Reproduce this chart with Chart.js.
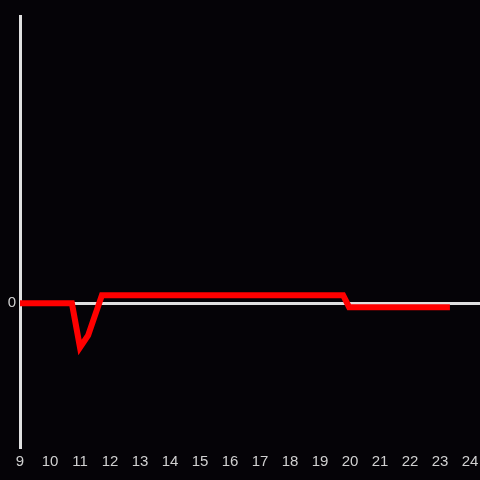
<!DOCTYPE html>
<html lang="en">
<head>
  <meta charset="UTF-8">
  <title>Line chart</title>
  <script src="https://cdn.jsdelivr.net/npm/chart.js"></script>
  <style>
    body {
      margin: 0;
      padding: 0;
      background-color: #050307;
    }
    #myChart {
      display: block;
    }
  </style>
</head>
<body>
  <canvas id="myChart" width="480" height="480"></canvas>

  <script>
    // hours on the x axis, values on the y axis
    const times = [9, 10.73, 11.0, 11.27, 11.73, 19.77, 19.97, 23.33];
    const values = [0, 0, -0.92, -0.67, 0.17, 0.17, -0.08, -0.08];
    const xTicks = [9, 10, 11, 12, 13, 14, 15, 16, 17, 18, 19, 20, 21, 22, 23, 24];
    const yTicks = [0];

    const points = times.map((t, i) => ({ x: t, y: values[i] }));

    const ctx = document.getElementById('myChart').getContext('2d');
    const myChart = new Chart(ctx, {
      type: 'line',
      data: {
        datasets: [{
          data: points,
          borderColor: '#ff0000',
          borderWidth: 6,
          pointRadius: 0,
          tension: 0,
          fill: false
        }]
      },
      options: {
        responsive: false,
        animation: false,
        layout: {
          padding: { top: 16, bottom: 3, left: 0, right: 0 }
        },
        scales: {
          x: {
            type: 'linear',
            min: 9,
            max: 24.333,
            afterBuildTicks: function(scale) {
              scale.ticks = xTicks.map(v => ({ value: v }));
            },
            afterFit: function(scale) {
              scale.paddingLeft = 0;
              scale.paddingRight = 0;
            },
            ticks: {
              color: '#d0d0d0',
              padding: 6,
              maxRotation: 0,
              autoSkip: false,
              font: { family: 'Liberation Sans, Arial, sans-serif', size: 15 }
            },
            grid: { display: false, drawTicks: false },
            border: { display: false }
          },
          y: {
            min: -3,
            max: 6,
            afterBuildTicks: function(scale) {
              scale.ticks = yTicks.map(v => ({ value: v }));
            },
            afterFit: function(scale) {
              scale.width = 20;
            },
            ticks: {
              color: '#d0d0d0',
              padding: 4,
              font: { family: 'Liberation Sans, Arial, sans-serif', size: 15 }
            },
            grid: {
              color: '#e0e0e0',
              lineWidth: 3,
              drawTicks: false
            },
            border: {
              display: true,
              color: '#e0e0e0',
              width: 3
            }
          }
        },
        plugins: {
          legend: { display: false },
          tooltip: { enabled: false }
        }
      }
    });
  </script>
</body>
</html>
